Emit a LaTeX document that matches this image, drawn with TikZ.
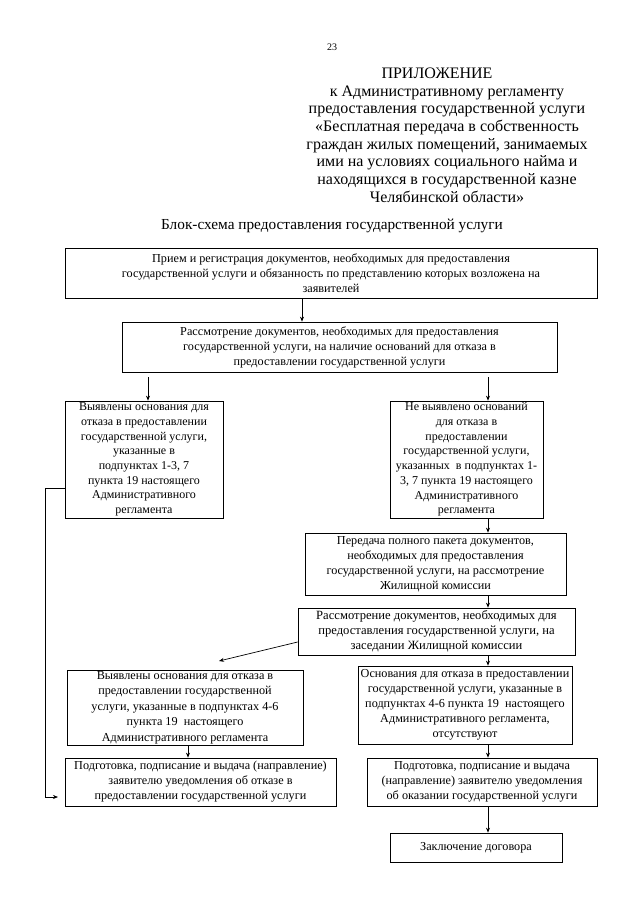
\documentclass[tikz,border=0pt]{standalone}
\usepackage{fontspec}
\setmainfont{Liberation Serif}
\usetikzlibrary{arrows.meta}
\tikzset{
  box/.style={draw, line width=0.7pt, inner sep=1pt, align=center,
    font=\fontsize{12.2}{15}\selectfont},
  arr/.style={line width=0.7pt, -{Stealth[length=5pt,width=4pt]}},
  ln/.style={line width=0.7pt},
  ttl/.style={align=center, font=\fontsize{16}{17.7}\selectfont, inner sep=0pt}
}
\begin{document}
\begin{tikzpicture}[x=1pt,y=-1pt]
\useasboundingbox (0,0) rectangle (640,905);
\node[font=\fontsize{10}{12}\selectfont, inner sep=0pt] (pg) at (332,47) {23};
\node[ttl] (app) at (437,73) {ПРИЛОЖЕНИЕ};
\node[ttl] (hdr) at (447,144) {к Административному регламенту\\
предоставления государственной услуги\\
«Бесплатная передача в собственность\\
граждан жилых помещений, занимаемых\\
ими на условиях социального найма и\\
находящихся в государственной казне\\
Челябинской области»};
\node[ttl, font=\fontsize{15.3}{17.7}\selectfont] (bs) at (332,226) {Блок-схема предоставления государственной услуги};

\node[box, minimum width=532, minimum height=50] (b1) at (331,273)
 {Прием и регистрация документов, необходимых для предоставления\\
 государственной услуги и обязанность по представлению которых возложена на\\
 заявителей};
\node[box, minimum width=435, minimum height=50] (b2) at (339.5,347)
 {Рассмотрение документов, необходимых для предоставления\\
 государственной услуги, на наличие оснований для отказа в\\
 предоставлении государственной услуги};
\node[box, font=\fontsize{12}{14.7}\selectfont, minimum width=158, minimum height=117] (b3L) at (144,459.5)
 {Выявлены основания для\\ отказа в предоставлении\\ государственной услуги,\\ указанные в\\ подпунктах 1-3, 7\\ пункта 19 настоящего\\ Административного\\ регламента};
\node[box, font=\fontsize{12}{14.7}\selectfont, minimum width=153, minimum height=117] (b3R) at (466.5,459.5)
 {Не выявлено оснований\\ для отказа в\\ предоставлении\\ государственной услуги,\\ указанных\ \ в подпунктах 1-\\ 3, 7 пункта 19 настоящего\\ Административного\\ регламента};
\node[box, minimum width=261, minimum height=62] (b4) at (435.5,564)
 {Передача полного пакета документов,\\ необходимых для предоставления\\ государственной услуги, на рассмотрение\\ Жилищной комиссии};
\node[box, font=\fontsize{12.6}{15}\selectfont, minimum width=277, minimum height=47] (b5) at (436.5,631.5)
 {Рассмотрение документов, необходимых для\\ предоставления государственной услуги, на\\ заседании Жилищной комиссии};
\node[box, font=\fontsize{12.2}{15.4}\selectfont, minimum width=236, minimum height=75] (b6L) at (185,707.5)
 {Выявлены основания для отказа в\\ предоставлении государственной\\ услуги, указанные в подпунктах 4-6\\ пункта 19\ \ настоящего\\ Административного регламента};
\node[box, minimum width=214, minimum height=78] (b6R) at (465,705)
 {Основания для отказа в предоставлении\\ государственной услуги, указанные в\\ подпунктах 4-6 пункта 19\ \ настоящего\\ Административного регламента,\\ отсутствуют};
\node[box, minimum width=271, minimum height=48] (b7L) at (200.5,782)
 {Подготовка, подписание и выдача (направление)\\ заявителю уведомления об отказе в\\ предоставлении государственной услуги};
\node[box, minimum width=230, minimum height=48] (b7R) at (482,782)
 {Подготовка, подписание и выдача\\ (направление) заявителю уведомления\\ об оказании государственной услуги};
\node[box, minimum width=172, minimum height=29] (b8) at (476,847.5)
 {Заключение договора};

\coordinate (x302) at (302,0);
\coordinate (x488) at (488,0);
\coordinate (x188) at (188,0);
\coordinate (sL) at (148,377);
\coordinate (sR) at (488,377);
\coordinate (y642) at (0,642);
\coordinate (dg) at (219,661);
\coordinate (lpA) at (45,488);
\coordinate (lpB) at (45,797);
\coordinate (lpC) at (58,797);

\draw[arr] (b1.south -| x302) -- (b2.north -| x302);
\draw[arr] (sL) -- (b3L.north -| sL);
\draw[arr] (sR) -- (b3R.north -| sR);
\draw[arr] (b3R.south -| x488) -- (b4.north -| x488);
\draw[arr] (b4.south -| x488) -- (b5.north -| x488);
\draw[arr] (b5.south -| x488) -- (b6R.north -| x488);
\draw[arr] (b5.west |- y642) -- (dg);
\draw[arr] (b6L.south -| x188) -- (b7L.north -| x188);
\draw[arr] (b6R.south -| x488) -- (b7R.north -| x488);
\draw[arr] (b7R.south -| x488) -- (b8.north -| x488);
\draw[ln] (b3L.west |- lpA) -- (lpA) -- (lpB);
\draw[arr] (lpB) -- (lpC);
\end{tikzpicture}
\end{document}
